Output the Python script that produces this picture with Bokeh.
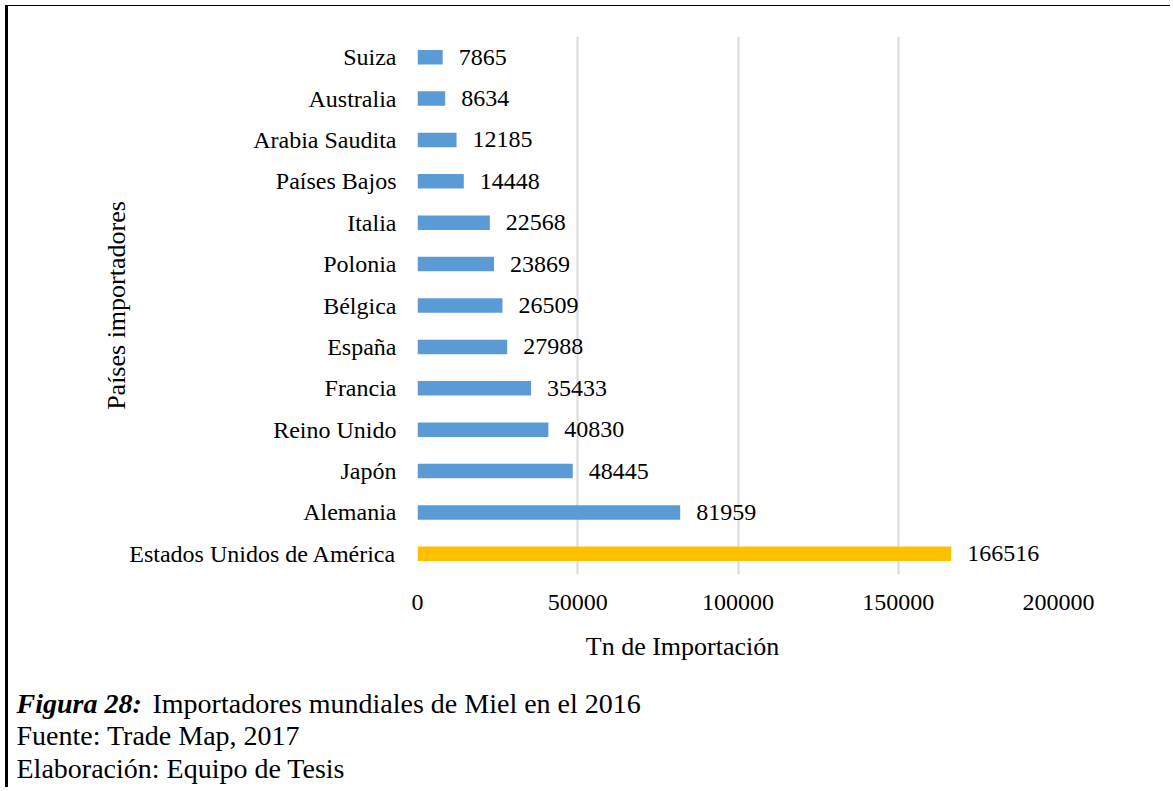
from bokeh.plotting import figure
from bokeh.layouts import column
from bokeh.models import (ColumnDataSource, FactorRange, Range1d, FixedTicker,
                          BasicTickFormatter)
from bokeh.core.properties import value
from bokeh.embed import file_html
from bokeh.resources import INLINE

# ---- data (bottom to top) ----
countries = ["Estados Unidos de América", "Alemania", "Japón", "Reino Unido",
             "Francia", "España", "Bélgica", "Polonia", "Italia",
             "Países Bajos", "Arabia Saudita", "Australia", "Suiza"]
imports_tn = [166516, 81959, 48445, 40830, 35433, 27988, 26509, 23869,
              22568, 14448, 12185, 8634, 7865]
x_ticks = [0, 50000, 100000, 150000, 200000]
x_title = "Tn de Importación"
y_title = "Países importadores"
caption_bold = "Figura 28:"
caption_1 = "Importadores mundiales de Miel en el 2016"
caption_2 = "Fuente: Trade Map, 2017"
caption_3 = "Elaboración: Equipo de Tesis"

FONT = "Liberation Serif"
W = 1162                  # content width (page x 8 .. 1170)
OX, OY = 8, 6.5           # page offset of the content (margin + border)
P_H = 619                 # chart figure height (page y 6.5 .. 625.5)
CAP_H = 162               # caption figure height (page y 625.5 .. 787.5)
CAP_SHIFT = -10           # empirical baseline correction for caption texts


def no_align(f):
    if "frame_align" in f.properties():
        f.frame_align = False
    return f


# ---- main chart ----
colors = ["#FFC000"] + ["#5B9BD5"] * (len(countries) - 1)
src = ColumnDataSource(dict(country=countries, val=imports_tn,
                            label=[str(v) for v in imports_tn], color=colors))

p = figure(width=W, height=P_H,
           y_range=FactorRange(*countries), x_range=Range1d(0, 200000),
           output_backend="svg", toolbar_location=None,
           min_border_left=417 - OX, min_border_right=OX + W - 1058,
           min_border_top=30, min_border_bottom=51)
no_align(p)
p.outline_line_color = None
p.background_fill_color = "white"
p.border_fill_color = "white"

p.hbar(y="country", right="val", left=0, height=0.35, color="color",
       line_color=None, source=src)
p.text(x="val", y="country", text="label", x_offset=16, text_align="left",
       text_baseline="middle", text_font=value(FONT), text_font_size="24px",
       text_color="#000000", source=src)

p.xaxis.ticker = FixedTicker(ticks=x_ticks)
p.xaxis.formatter = BasicTickFormatter(use_scientific=False)
for ax in (p.xaxis[0], p.yaxis[0]):
    ax.axis_line_color = None
    ax.major_tick_line_color = None
    ax.minor_tick_line_color = None
    ax.major_tick_out = 0
    ax.major_tick_in = 0
    ax.major_label_text_font = FONT
    ax.major_label_text_font_size = "24px"
    ax.major_label_text_color = "#000000"
p.xaxis.major_label_standoff = 20
p.yaxis.major_label_standoff = 21
p.yaxis.axis_label = y_title
p.yaxis.axis_label_text_font = FONT
p.yaxis.axis_label_text_font_size = "26px"
p.yaxis.axis_label_text_font_style = "normal"
p.yaxis.axis_label_text_color = "#000000"
p.yaxis.axis_label_standoff = -5

p.xgrid.grid_line_color = "#d9d9d9"
p.xgrid.grid_line_width = 2
p.ygrid.grid_line_color = None

# ---- x title and captions (coordinates = page pixels) ----
cap_top = OY + P_H
cap = figure(width=W, height=CAP_H, x_range=Range1d(OX, OX + W),
             y_range=Range1d(cap_top + CAP_H, cap_top), x_axis_type=None,
             y_axis_type=None, output_backend="svg", toolbar_location=None,
             min_border=0)
no_align(cap)
cap.outline_line_color = None
cap.grid.grid_line_color = None
cap.background_fill_color = "white"
cap.border_fill_color = "white"


def cap_text(x, y, text, size, style="normal", align="left"):
    cap.text(x=[x], y=[y + CAP_SHIFT], text=[text], text_font=value(FONT),
             text_font_size=size, text_font_style=style, text_align=align,
             text_baseline="alphabetic", text_color="#000000")


cap_text(682, 656, x_title, "26px", align="center")
cap_text(16, 713, caption_bold, "28px", style="bold italic")
cap_text(152, 713, caption_1, "28px")
cap_text(16, 745, caption_2, "28px")
cap_text(16, 778, caption_3, "28px")

layout = column(p, cap, spacing=0,
                styles={"margin-left": "5px", "margin-top": "5px",
                        "border-left": "3px solid #000",
                        "border-top": "1.5px solid #000"})
open("out.html", "w").write(file_html(layout, INLINE))
